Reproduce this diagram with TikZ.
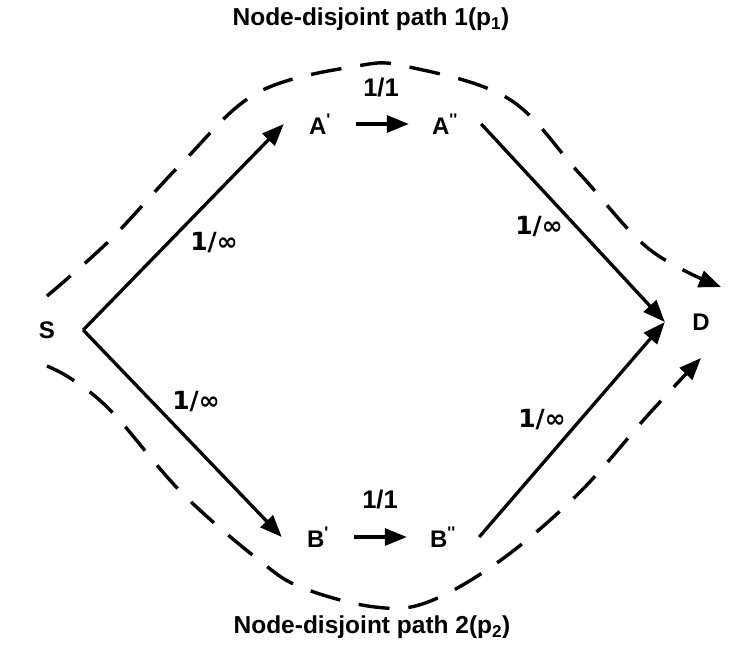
\documentclass[tikz,border=0pt]{standalone}
\usepackage{fontspec}
\setmainfont{Liberation Sans}
\newfontfamily\dejavu{DejaVu Sans}
\usetikzlibrary{arrows.meta}
\begin{document}
\begin{tikzpicture}[x=1pt,y=-1pt,
  vertex/.style={circle,minimum size=72pt,inner sep=0pt,font=\fontsize{24}{26}\selectfont\bfseries},
  arr/.style={line width=3.3pt,-{Triangle[length=22pt,width=17pt]}},
  patharr/.style={line width=3.4pt,dash pattern=on 31pt off 19pt,-{Triangle[length=22pt,width=17pt]}},
  capinf/.style={font=\dejavu\fontsize{25}{27}\selectfont\bfseries},
  capone/.style={font=\fontsize{25.5}{27}\selectfont\bfseries},
  title/.style={font=\fontsize{24.5}{26}\selectfont\bfseries}]
\useasboundingbox (0,0) rectangle (732,645);
\node[vertex] (S) at (47,330) {S};
\node[vertex] (D) at (701,322) {D};
\node[vertex] (A1) at (320,124) {A\textsuperscript{\textquotesingle}};
\node[vertex] (A2) at (445,124) {A\textsuperscript{\textquotesingle\textquotesingle}};
\node[vertex] (B1) at (318,537) {B\textsuperscript{\textquotesingle}};
\node[vertex] (B2) at (443,537) {B\textsuperscript{\textquotesingle\textquotesingle}};
\draw[arr] (S.east) -- (A1.west);
\draw[arr] (S.east) -- (B1.west);
\draw[arr] (A1.east) -- (A2.west);
\draw[arr] (B1.east) -- (B2.west);
\draw[arr] (A2.east) -- (D.west);
\draw[arr] (B2.east) -- (D.west);
\node[capinf] (l1) at (214,243) {1/∞};
\node[capinf] (l2) at (196,402) {1/∞};
\node[capinf] (l3) at (539,227) {1/∞};
\node[capinf] (l4) at (542,420) {1/∞};
\node[capone] (c1) at (381,88) {1/1};
\node[capone] (c2) at (380,500) {1/1};
\node[title] (t1) at (371,19) {Node-disjoint path 1(p\textsubscript{1})};
\node[title] (t2) at (372,627) {Node-disjoint path 2(p\textsubscript{2})};
\coordinate (p1s) at (47,296);
\coordinate (p1e) at (721,287);
\coordinate (p2s) at (47,366);
\coordinate (p2e) at (701,358);
\draw[patharr] plot[smooth,tension=0.6] coordinates {(p1s) (110,240) (182,163) (257,93) (357,66) (409,67) (509,99) (579,173) (649,249) (p1e)};
\draw[patharr] plot[smooth,tension=0.6] coordinates {(p2s) (73,380) (113,413) (182,493) (260,561) (303,588) (375,607) (428,602) (501,560) (579,493) (648,415) (p2e)};
\end{tikzpicture}
\end{document}
